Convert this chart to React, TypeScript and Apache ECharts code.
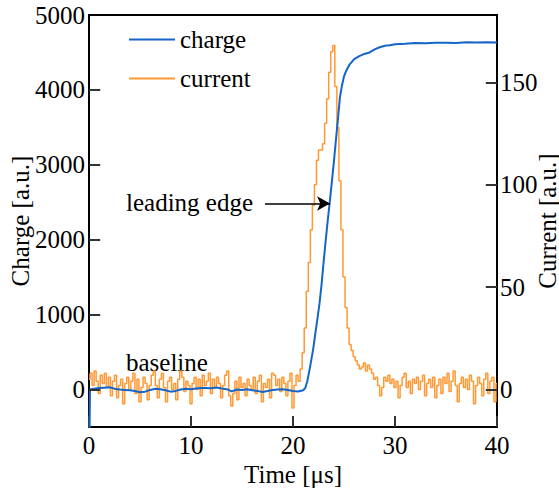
import React, { useEffect, useRef } from "react";
import * as echarts from "echarts";

const FONT = "Liberation Serif";
const FS = 25;

// Charge [a.u.] vs time [µs]
const chargeTimes = [
  0, 0.1, 0.5, 1, 1.5, 2, 2.5, 3, 3.5, 4, 4.5, 5, 5.5, 6, 6.5, 7, 7.5, 8, 8.5, 9, 9.5, 10,
  10.5, 11, 11.5, 12, 12.5, 13, 13.5, 14, 14.5, 15, 15.5, 16, 16.5, 17, 17.5, 18, 18.5, 19,
  19.5, 20, 20.5, 21.0, 21.2, 21.4, 21.6, 21.8, 22.0, 22.2, 22.4, 22.6, 22.8, 23.0, 23.2,
  23.4, 23.6, 23.8, 24.0, 24.2, 24.4, 24.6, 24.8, 25.0, 25.2, 25.5, 26.0, 26.5, 27.0, 27.5,
  28.0, 28.5, 29, 29.5, 30, 31, 32, 33, 34, 35, 36, 37, 38, 39, 40,
];
const chargeValues = [
  -1200, 0, 10, 20, 25, 30, 12, 0, -5, -10, -20, -35, -28, -5, 10, 5, -10, -28, -18, 0, 10, 5,
  15, 20, 22, 18, 28, 15, 5, -25, 0, -5, 5, -10, -18, -32, -20, -5, 0, 5,
  -5, -18, -25, -10, 20, 110, 250, 400, 560, 760, 950, 1150, 1400, 1700, 1980,
  2250, 2500, 2760, 3030, 3320, 3600, 3900, 4060, 4180, 4250, 4330, 4410, 4450, 4480, 4500,
  4540, 4570, 4590, 4595, 4610, 4615, 4625, 4622, 4628, 4630, 4627, 4635, 4632, 4636, 4634,
];

// Current [a.u.], sampled every 0.2 µs from 0 to 40 µs
const currentStep = 0.2;
const currentValues = [
  5, 8, 2, 9, 4, -2, 7, 3, 8, 1, 6,
  -3, 4, 7, -4, 2, 5, -7, 3, 6, 0,
  4, 8, -2, 5, -6, 1, 6, 3, -5, 2,
  7, 9, 2, -4, 5, 8, 1, -6, 4, 6,
  0, 3, -5, 5, 9, 6, -1, 4, 2, -7,
  3, 6, 0, 5, -3, 7, 2, 4, 8, -2,
  5, 1, 6, 3, -4, 2, 7, 9, -3, -8,
  -2, 4, -5, 6, 1, 3, -3, 5, 2, 0,
  6, -2, 4, 7, -6, 3, 1, 5, -4, 8,
  7, 2, 5, -1, 6, 3, -3, 4, 8, -9,
  2, 7, 4, 10, 18,
  30, 48, 62, 78, 90, 100, 112, 117, 117, 120, 130, 142, 155, 165, 168, 148, 128, 102, 78, 55, 40, 30, 22, 19,
  16, 14, 12, 10, 11, 13, 9, 12, 10, 8, 5,
  6, 2, -3, 1, 6, 4, 7, 3, 5, 1,
  4, -4, 2, 6, 8, 1, 4, -2, 5, 3,
  6, 0, 4, 7, -3, 3, 5, 1, 6, -4,
  2, 5, -2, 6, 3, 8, -1, 4, 9, 2,
  -6, 3, 6, 1, 5, 0, 7, 4, -7, 2,
  6, 3, -3, 5, 8, -2, 4, 6, -6, 3,
];

const xTicks = [10, 20, 30];
const leftTicks = [0, 1000, 2000, 3000, 4000];
const rightTicks = [0, 50, 100, 150];
const leftLabels = [0, 1000, 2000, 3000, 4000, 5000];

// axis ranges
const X_MIN = 0, X_MAX = 40;
const L_MIN = -500, L_MAX = 5000;
const R_MIN = -18.3, R_MAX = 182.9;
// tick lengths in data units (about 11 px)
const TICK_X = 1.1;
const TICK_L = 145;

// annotation arrow (data coordinates)
const arrowFrom = [17.25, 2484];
const arrowTo = [23.63, 2484];

export default function App() {
  const ref = useRef<HTMLDivElement>(null);
  useEffect(() => {
    if (!ref.current) return;
    const chart = echarts.init(ref.current, null, { renderer: "svg" });
    const chargeData = chargeTimes.map((t, i) => [t, chargeValues[i]]);
    const currentData = currentValues.map((v, i) => [Math.round(i * currentStep * 10) / 10, v]);
    const labelStyle = { fontFamily: FONT, fontSize: FS, color: "#000" };
    const axisLine = { show: true, onZero: false, lineStyle: { color: "#000", width: 2 } };
    const tickStyle = { color: "#333", width: 2, type: "solid", opacity: 1 };
    const txt = (text: string, extra: any) => ({
      type: "text",
      ...extra,
      style: { text, fontFamily: FONT, fontSize: FS, fill: "#000", ...(extra.style || {}) },
    });
    const seg = (a: number[], b: number[]) => [
      { coord: a, symbol: "none", lineStyle: tickStyle },
      { coord: b, symbol: "none", lineStyle: tickStyle },
    ];
    const leftTickLines = leftTicks.map((v) => seg([X_MIN, v], [X_MIN + TICK_X, v]));
    const bottomTickLines = xTicks.map((t) => seg([t, L_MIN], [t, L_MIN + TICK_L]));
    const rightTickLines = rightTicks.map((v) => seg([X_MAX - TICK_X, v], [X_MAX, v]));
    chart.setOption({
      animation: false,
      backgroundColor: "#fff",
      textStyle: { fontFamily: FONT },
      grid: {
        left: 89, right: 62, top: 15, bottom: 63, containLabel: false,
        show: true, borderColor: "#000", borderWidth: 2, backgroundColor: "transparent",
      },
      legend: {
        left: 124,
        top: 22,
        orient: "vertical",
        icon: "rect",
        itemWidth: 46,
        itemHeight: 2,
        itemGap: 14,
        data: ["charge", "current"],
        textStyle: { fontFamily: FONT, fontSize: FS, color: "#000", lineHeight: 25 },
      },
      xAxis: {
        type: "value",
        min: X_MIN,
        max: X_MAX,
        interval: 10,
        axisLine,
        axisTick: { show: true, inside: true, length: 11, lineStyle: { color: "#333", width: 2 } },
        axisLabel: { ...labelStyle, margin: 6 },
        splitLine: { show: false },
      },
      yAxis: [
        {
          type: "value",
          min: L_MIN,
          max: L_MAX,
          minInterval: 1000,
          maxInterval: 1000,
          axisLine,
          axisTick: { show: false },
          axisLabel: {
            ...labelStyle,
            margin: 4,
            showMinLabel: false,
            formatter: (v: number) => (leftLabels.includes(v) ? String(v) : ""),
          },
          splitLine: { show: false },
        },
        {
          type: "value",
          position: "right",
          min: R_MIN,
          max: R_MAX,
          minInterval: 50,
          maxInterval: 50,
          axisLine,
          axisTick: { show: false },
          axisLabel: {
            ...labelStyle,
            margin: 3,
            showMinLabel: false,
            showMaxLabel: false,
            formatter: (v: number) => (rightTicks.includes(v) ? String(v) : ""),
          },
          splitLine: { show: false },
        },
      ],
      series: [
        {
          name: "current",
          type: "line",
          yAxisIndex: 1,
          step: "middle",
          symbol: "none",
          data: currentData,
          lineStyle: { color: "#ff9933", width: 1.5 },
          itemStyle: { color: "#ff9933" },
          z: 2,
          markLine: {
            silent: true,
            symbol: ["none", "none"],
            label: { show: false },
            lineStyle: tickStyle,
            data: rightTickLines,
          },
        },
        {
          name: "charge",
          type: "line",
          yAxisIndex: 0,
          symbol: "none",
          data: chargeData,
          lineStyle: { color: "#1565c8", width: 2 },
          itemStyle: { color: "#1565c8" },
          z: 3,
          markLine: {
            silent: true,
            symbol: ["none", "none"],
            label: { show: false },
            lineStyle: tickStyle,
            data: [
              ...leftTickLines,
              ...bottomTickLines,
              [
                { coord: arrowFrom, symbol: "none", lineStyle: { color: "#000", width: 1.5, type: "solid" } },
                { coord: arrowTo, symbol: "arrow", symbolSize: [11, 13] },
              ],
            ],
          },
        },
      ],
      graphic: [
        txt("leading edge", { left: 126, top: 190 }),
        txt("baseline", { left: 126, top: 350 }),
        txt("Time [μs]", { x: 293, y: 474, style: { align: "center", verticalAlign: "middle" } }),
        txt("Charge [a.u.]", {
          x: 20,
          y: 221,
          rotation: Math.PI / 2,
          style: { align: "center", verticalAlign: "middle" },
        }),
        txt("Current [a.u.]", {
          x: 547,
          y: 221,
          rotation: Math.PI / 2,
          style: { align: "center", verticalAlign: "middle" },
        }),
      ],
    });
    return () => chart.dispose();
  }, []);
  return <div ref={ref} style={{ width: 559, height: 490, position: "absolute", left: 0, top: 0 }} />;
}
